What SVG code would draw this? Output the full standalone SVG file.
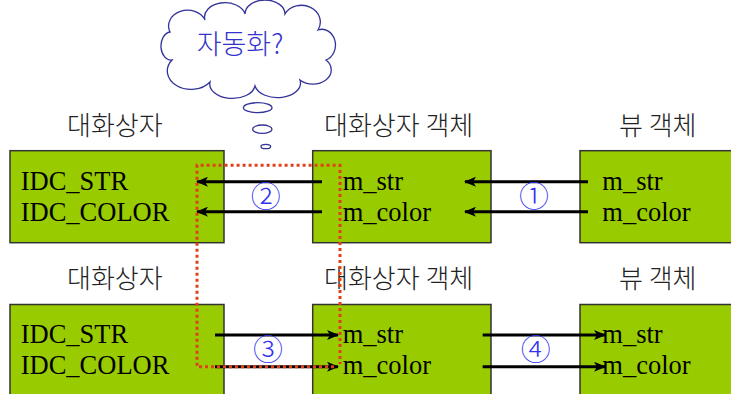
<svg xmlns="http://www.w3.org/2000/svg" width="731" height="394" viewBox="0 0 731 394">
<style>
.box{fill:#99CC00;stroke:#333333;stroke-width:1.5}
.en{font-family:"Liberation Serif",serif;font-size:26.5px;fill:#000}
.ko{font-family:"Noto Sans CJK KR",sans-serif;font-size:26px;font-weight:300;fill:#222}
.num{font-family:"Noto Sans CJK KR",sans-serif;font-size:30px;font-weight:300;fill:#3333EE}
.arr{stroke:#000;stroke-width:3;fill:none;marker-end:url(#ah)}
.dot{stroke:#E0401A;stroke-width:3;fill:none;stroke-dasharray:3 3}
.thought{fill:#fff;stroke:#333399;stroke-width:1.3}
</style>
<defs>
<marker id="ah" markerUnits="userSpaceOnUse" markerWidth="12" markerHeight="10" refX="11" refY="5" orient="auto">
<path d="M0,0 L12,5 L0,10 L3,5 Z" fill="#000"/>
</marker>
</defs>
<rect width="731" height="394" fill="#fff"/>

<g id="cloud">
<path class="thought" d="M172,60 A10,14 0 0 1 170,32 A18,15 0 0 1 205,20 A20,14 0 0 1 245,14 A20,14 0 0 1 285,14 A18,16 0 0 1 318,30 A12,14 0 0 1 326,60 A18,14 0 0 1 300,80 A22,14 0 0 1 255,86 A22,14 0 0 1 210,82 A18,14 0 0 1 172,60 Z"/>
<ellipse class="thought" cx="257.7" cy="107.7" rx="14.3" ry="5"/>
<ellipse class="thought" cx="262.3" cy="129.2" rx="9.7" ry="4.2"/>
<ellipse class="thought" cx="265.8" cy="146.5" rx="4.8" ry="2.2"/>
<text x="240" y="54" text-anchor="middle" style="font-family:'Noto Sans CJK KR',sans-serif;font-size:27px;font-weight:300;fill:#3333CC">자동화?</text>
</g>

<g id="labels">
<text class="ko" x="67" y="135">대화상자</text>
<text class="ko" x="324" y="135">대화상자 객체</text>
<text class="ko" x="619" y="135">뷰 객체</text>
<text class="ko" x="67" y="288">대화상자</text>
<text class="ko" x="324" y="288">대화상자 객체</text>
<text class="ko" x="619" y="288">뷰 객체</text>
</g>

<g id="dlg1">
<rect class="box" x="10" y="150.7" width="214" height="92"/>
<text class="en" x="20.7" y="190">IDC_STR</text>
<text class="en" x="20.7" y="220.5">IDC_COLOR</text>
</g>
<g id="obj1">
<rect class="box" x="312.7" y="150.7" width="178.3" height="92"/>
<text class="en" x="342.7" y="190">m_str</text>
<text class="en" x="342.7" y="220.5">m_color</text>
</g>
<g id="view1">
<rect class="box" x="580" y="150.7" width="160" height="92"/>
<text class="en" x="602.3" y="190">m_str</text>
<text class="en" x="602.3" y="220.5">m_color</text>
</g>
<g id="dlg2">
<rect class="box" x="10" y="304.5" width="214" height="100"/>
<text class="en" x="20.7" y="343.3">IDC_STR</text>
<text class="en" x="20.7" y="374">IDC_COLOR</text>
</g>
<g id="obj2">
<rect class="box" x="312.7" y="304.5" width="178.3" height="100"/>
<text class="en" x="342.7" y="343.3">m_str</text>
<text class="en" x="342.7" y="374">m_color</text>
</g>
<g id="view2">
<rect class="box" x="580" y="304.5" width="160" height="100"/>
<text class="en" x="602.3" y="343.3">m_str</text>
<text class="en" x="602.3" y="374">m_color</text>
</g>

<g id="connectors">
<line class="arr" x1="322" y1="181.7" x2="197" y2="181.7"/>
<line class="arr" x1="322" y1="211.7" x2="197" y2="211.7"/>
<line class="arr" x1="588" y1="181.7" x2="465" y2="181.7"/>
<line class="arr" x1="588" y1="211.7" x2="465" y2="211.7"/>
<line class="arr" x1="215" y1="335" x2="338" y2="335"/>
<line class="arr" x1="215" y1="366.7" x2="338" y2="366.7"/>
<line class="arr" x1="482.7" y1="335" x2="605" y2="335"/>
<line class="arr" x1="482.7" y1="366.7" x2="605" y2="366.7"/>
<path class="dot" d="M334,366.7 L197,366.7 L197,165.3 L340,165.3 L340,364"/>
<text class="num" x="534" y="207.3" text-anchor="middle">①</text>
<text class="num" x="265.7" y="207.3" text-anchor="middle">②</text>
<text class="num" x="268" y="360.3" text-anchor="middle">③</text>
<text class="num" x="535.7" y="360.3" text-anchor="middle">④</text>
</g>
</svg>
